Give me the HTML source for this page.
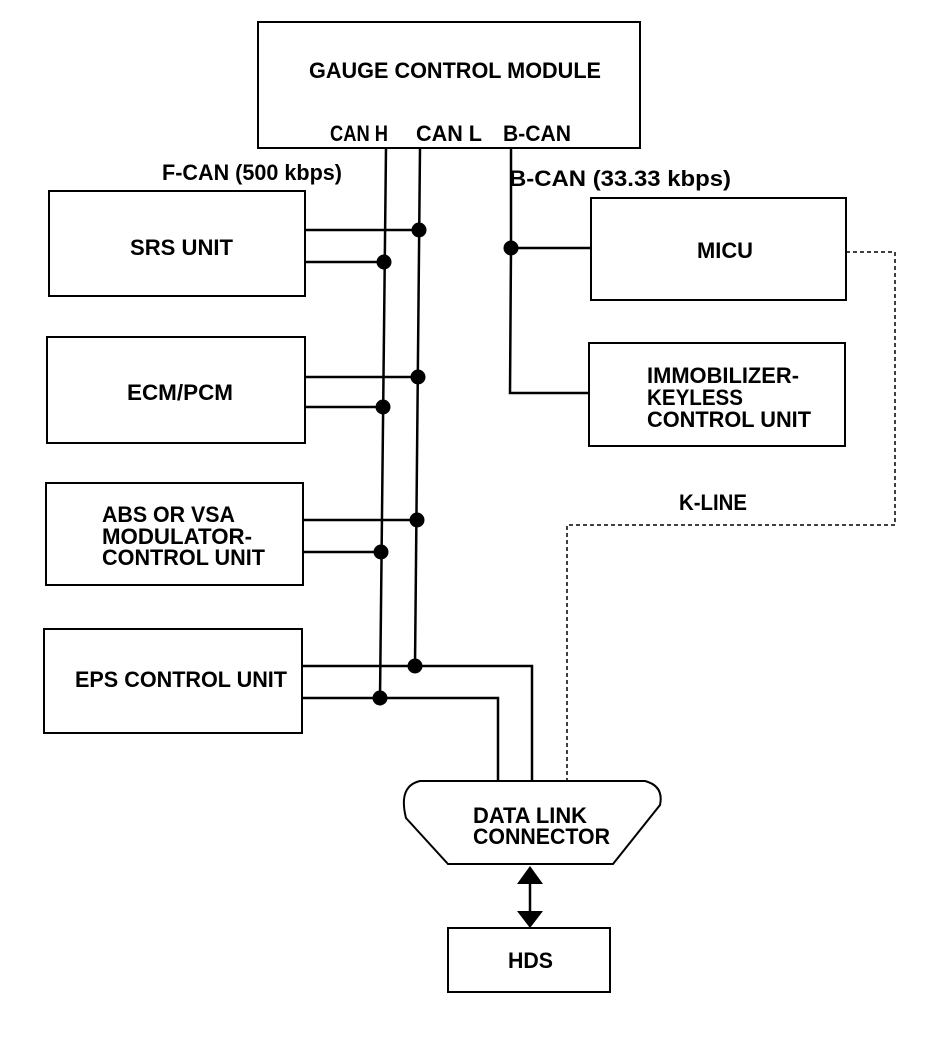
<!DOCTYPE html>
<html><head><meta charset="utf-8"><style>
html,body{margin:0;padding:0;background:#fff;}
svg{display:block;}
text{font-family:"Liberation Sans",sans-serif;font-weight:bold;font-size:22px;fill:#000;}
</style></head><body>
<svg width="944" height="1064" viewBox="0 0 944 1064" xmlns="http://www.w3.org/2000/svg">
<g fill="none" stroke="#000" stroke-width="2">
<rect x="258" y="22" width="382" height="126"/>
<rect x="49" y="191" width="256" height="105"/>
<rect x="47" y="337" width="258" height="106"/>
<rect x="46" y="483" width="257" height="102"/>
<rect x="44" y="629" width="258" height="104"/>
<rect x="591" y="198" width="255" height="102"/>
<rect x="589" y="343" width="256" height="103"/>
<rect x="448" y="928" width="162" height="64"/>
<path d="M420 781 L645 781 Q664 786 660 805 L613 864 L448 864 L406 818 Q398 786 420 781 Z"/>
</g>
<g fill="none" stroke="#000" stroke-width="2.5">
<line x1="386" y1="148" x2="380" y2="698"/>
<line x1="420" y1="148" x2="415" y2="666"/>
<path d="M511 148 L511 248 M511 248 L591 248 M511 248 L510 393 L589 393"/>
<line x1="305" y1="230" x2="419" y2="230"/>
<line x1="305" y1="262" x2="384" y2="262"/>
<line x1="305" y1="377" x2="418" y2="377"/>
<line x1="305" y1="407" x2="383" y2="407"/>
<line x1="303" y1="520" x2="417" y2="520"/>
<line x1="303" y1="552" x2="381" y2="552"/>
<path d="M302 666 L532 666 L532 781"/>
<path d="M302 698 L498 698 L498 781"/>
<line x1="530" y1="880" x2="530" y2="914"/>
</g>
<g fill="#000">
<circle cx="419" cy="230" r="7.5"/><circle cx="384" cy="262" r="7.5"/>
<circle cx="418" cy="377" r="7.5"/><circle cx="383" cy="407" r="7.5"/>
<circle cx="417" cy="520" r="7.5"/><circle cx="381" cy="552" r="7.5"/>
<circle cx="415" cy="666" r="7.5"/><circle cx="380" cy="698" r="7.5"/>
<circle cx="511" cy="248" r="7.5"/>
<polygon points="530,866 517,884 543,884"/>
<polygon points="530,928 517,911 543,911"/>
</g>
<path d="M846 252 L895 252 L895 525 L567 525 L567 781" fill="none" stroke="#000" stroke-width="1.5" stroke-dasharray="4,3"/>
<text x="309" y="78" textLength="292" lengthAdjust="spacingAndGlyphs">GAUGE CONTROL MODULE</text>
<text x="330" y="141" textLength="58" lengthAdjust="spacingAndGlyphs">CAN H</text>
<text x="416" y="141" textLength="66" lengthAdjust="spacingAndGlyphs">CAN L</text>
<text x="503" y="141" textLength="68" lengthAdjust="spacingAndGlyphs">B-CAN</text>
<text x="162" y="180" textLength="180" lengthAdjust="spacingAndGlyphs">F-CAN (500 kbps)</text>
<text x="509" y="186" textLength="222" lengthAdjust="spacingAndGlyphs">B-CAN (33.33 kbps)</text>
<text x="130" y="255" textLength="103" lengthAdjust="spacingAndGlyphs">SRS UNIT</text>
<text x="127" y="400" textLength="106" lengthAdjust="spacingAndGlyphs">ECM/PCM</text>
<text x="102" y="522" textLength="133" lengthAdjust="spacingAndGlyphs">ABS OR VSA</text>
<text x="102" y="544" textLength="150" lengthAdjust="spacingAndGlyphs">MODULATOR-</text>
<text x="102" y="565" textLength="163" lengthAdjust="spacingAndGlyphs">CONTROL UNIT</text>
<text x="75" y="687" textLength="212" lengthAdjust="spacingAndGlyphs">EPS CONTROL UNIT</text>
<text x="697" y="258" textLength="56" lengthAdjust="spacingAndGlyphs">MICU</text>
<text x="647" y="383" textLength="152" lengthAdjust="spacingAndGlyphs">IMMOBILIZER-</text>
<text x="647" y="405" textLength="96" lengthAdjust="spacingAndGlyphs">KEYLESS</text>
<text x="647" y="427" textLength="164" lengthAdjust="spacingAndGlyphs">CONTROL UNIT</text>
<text x="679" y="510" textLength="68" lengthAdjust="spacingAndGlyphs">K-LINE</text>
<text x="473" y="823" textLength="114" lengthAdjust="spacingAndGlyphs">DATA LINK</text>
<text x="473" y="844" textLength="137" lengthAdjust="spacingAndGlyphs">CONNECTOR</text>
<text x="508" y="968" textLength="45" lengthAdjust="spacingAndGlyphs">HDS</text>
</svg>
</body></html>
